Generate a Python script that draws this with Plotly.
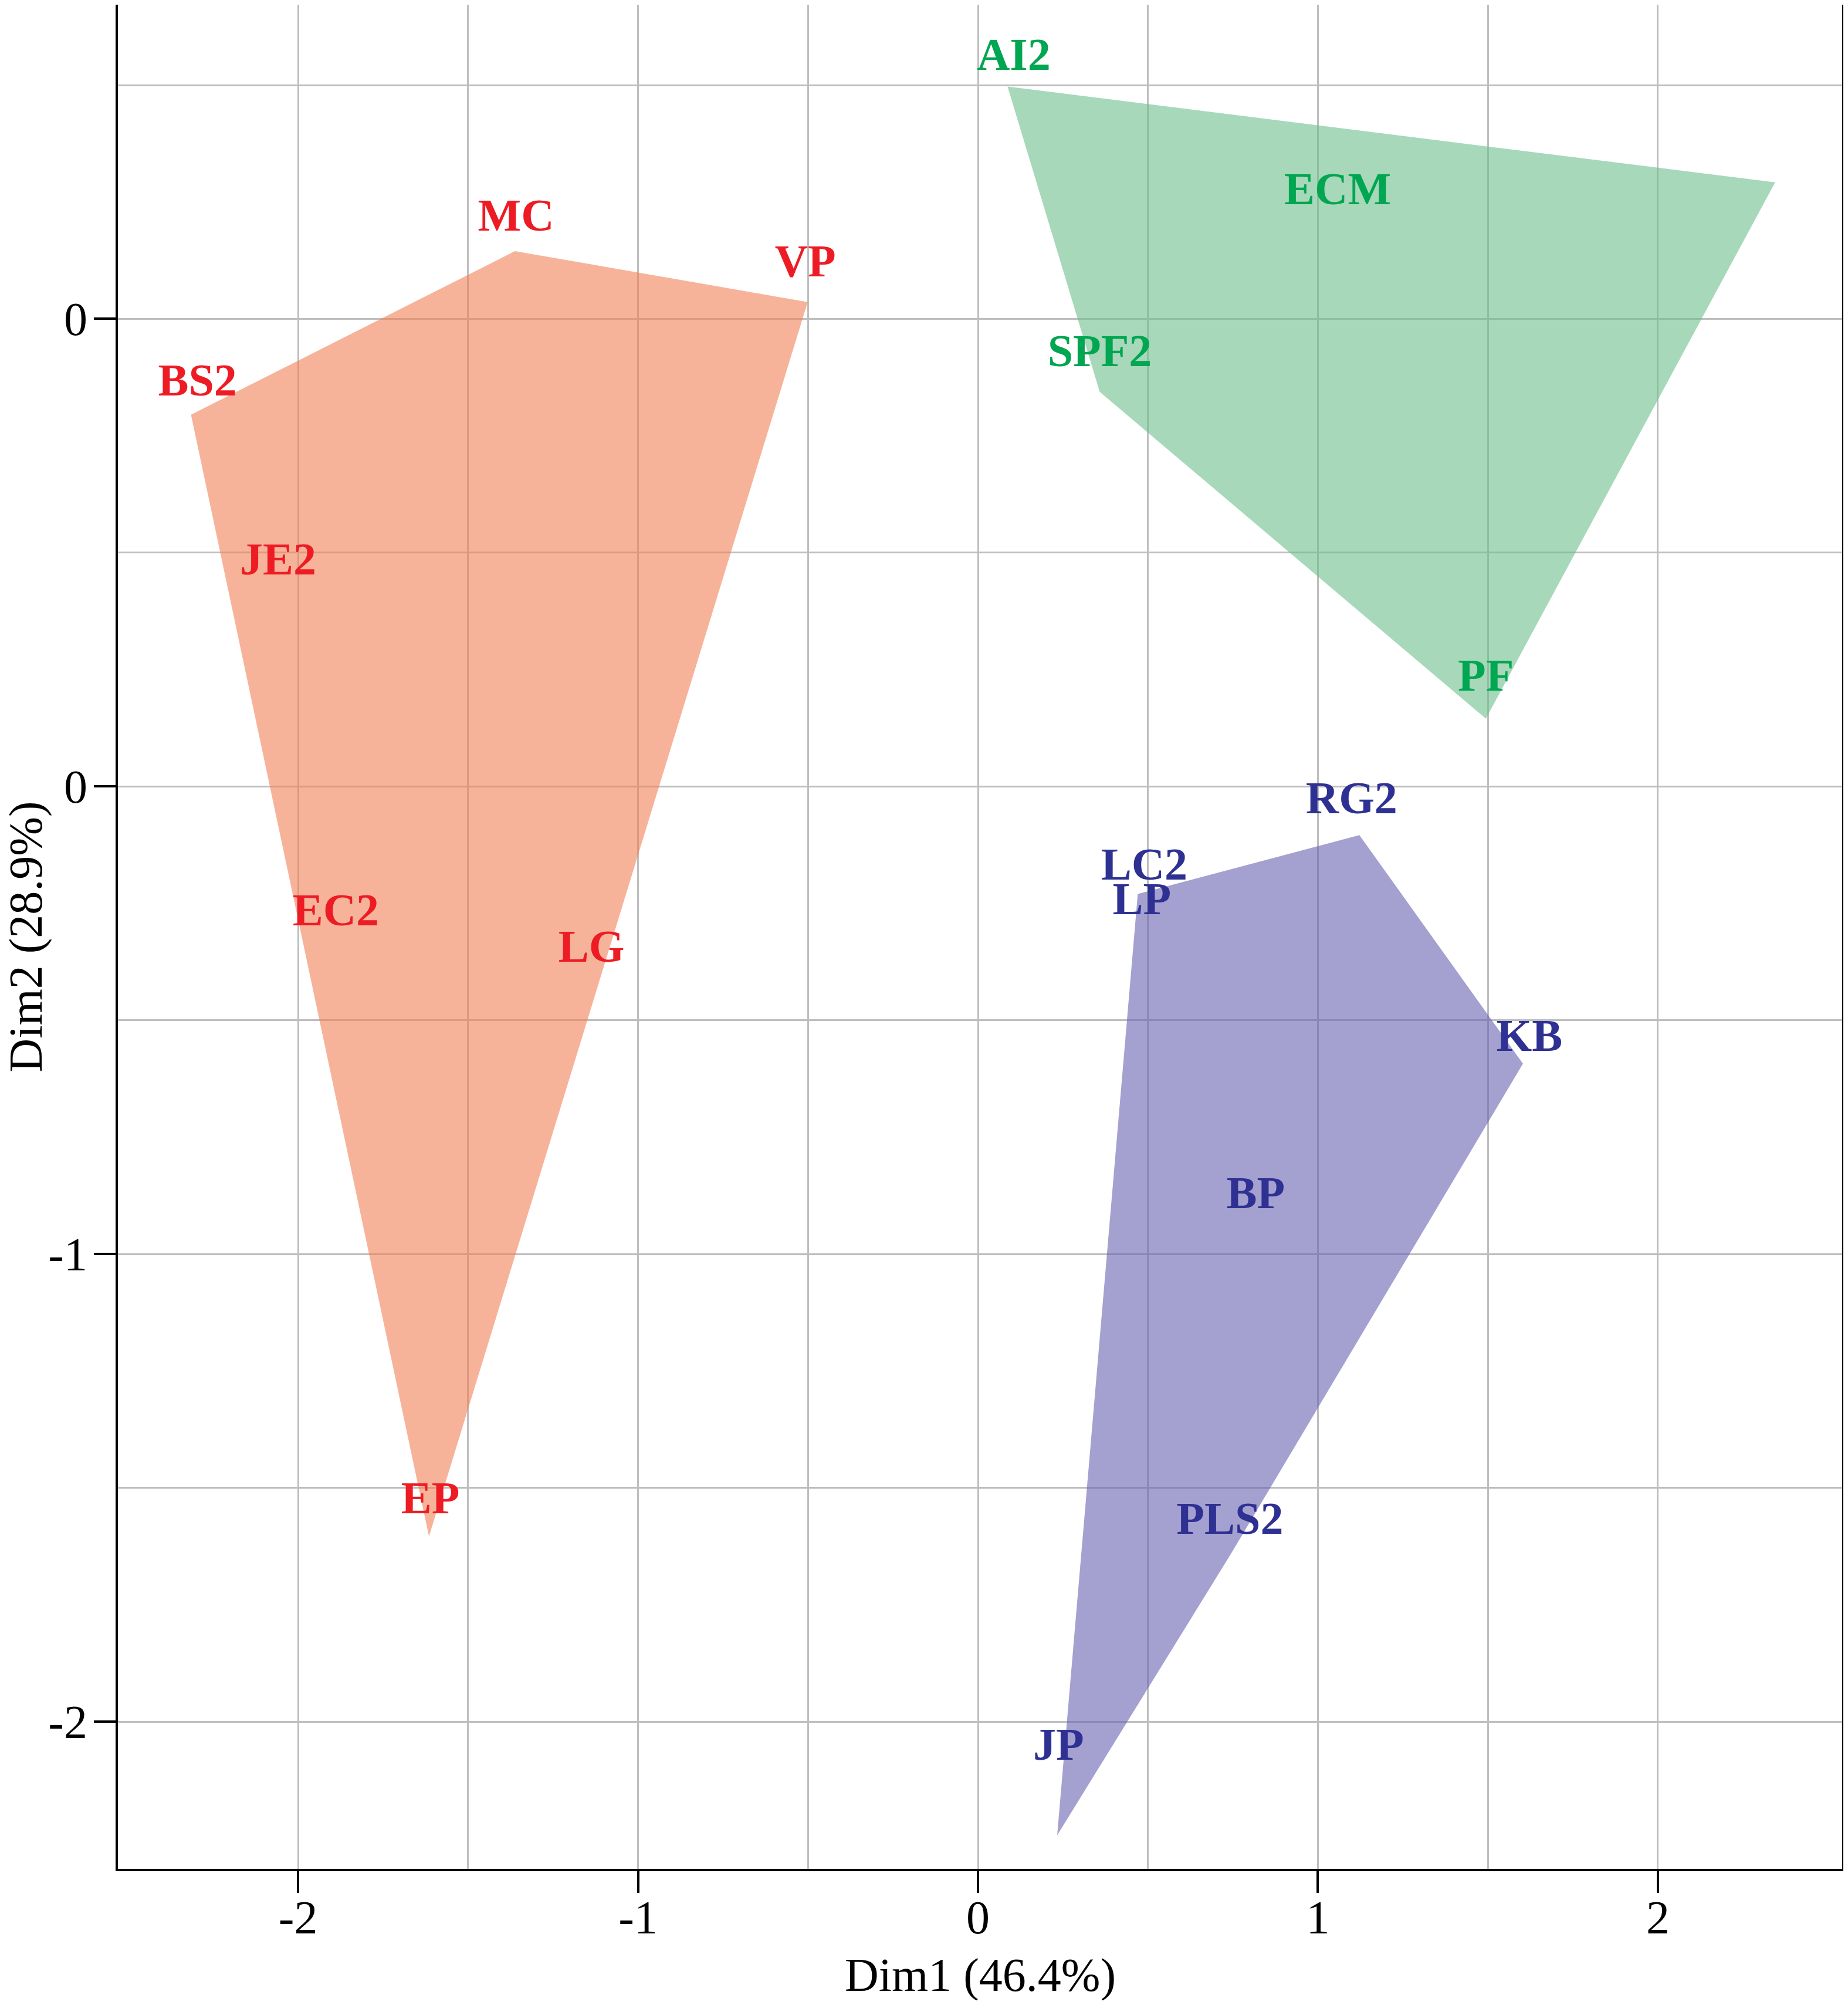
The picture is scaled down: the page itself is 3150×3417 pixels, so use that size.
import plotly.graph_objects as go

# ---- data (Dim1, Dim2 coordinates) ----
red_names = ["BS2", "MC", "VP", "JE2", "EC2", "LG", "EP"]
red_x = [-2.315, -1.362, -0.501, -2.059, -1.889, -1.137, -1.615]
red_y = [0.795, 1.145, 1.036, 0.407, -0.344, -0.421, -1.604]
red_lx = [-2.296, -1.359, -0.508, -2.059, -1.889, -1.137, -1.611]
red_ly = [0.861, 1.213, 1.115, 0.478, -0.273, -0.350, -1.530]

green_names = ["AI2", "ECM", "SPF2", "PF", ""]
green_x = [0.087, 1.058, 0.358, 1.494, 2.345]
green_y = [1.497, 1.199, 0.844, 0.145, 1.292]
green_lx = [0.105, 1.058, 0.358, 1.494, 2.345]
green_ly = [1.557, 1.270, 0.923, 0.229, 1.292]

blue_names = ["RG2", "LC2", "LP", "KB", "BP", "PLS2", "JP"]
blue_x = [1.122, 0.470, 0.482, 1.603, 0.817, 0.741, 0.233]
blue_y = [-0.104, -0.230, -0.317, -0.593, -0.948, -1.645, -2.243]
blue_lx = [1.099, 0.489, 0.482, 1.622, 0.817, 0.741, 0.237]
blue_ly = [-0.033, -0.175, -0.249, -0.541, -0.877, -1.574, -2.057]

x_tickvals = [-2, -1, 0, 1, 2]
x_ticktext = ["-2", "-1", "0", "1", "2"]
x_gridvals = [-1.5, -0.5, 0.5, 1.5]
y_tickvals = [1, 0, -1, -2]
y_ticktext = ["0", "0", "-1", "-2"]
y_gridvals = [1.5, 0.5, -0.5, -1.5]
x_title = "Dim1 (46.4%)"
y_title = "Dim2 (28.9%)"


def hull(xs, ys):
    pts = sorted(set(zip(xs, ys)))

    def cross(o, a, b):
        return (a[0] - o[0]) * (b[1] - o[1]) - (a[1] - o[1]) * (b[0] - o[0])

    lower, upper = [], []
    for p in pts:
        while len(lower) >= 2 and cross(lower[-2], lower[-1], p) <= 0:
            lower.pop()
        lower.append(p)
    for p in reversed(pts):
        while len(upper) >= 2 and cross(upper[-2], upper[-1], p) <= 0:
            upper.pop()
        upper.append(p)
    h = lower[:-1] + upper[:-1]
    h.append(h[0])
    return [p[0] for p in h], [p[1] for p in h]


groups = [
    (red_names, red_x, red_y, red_lx, red_ly, "rgba(242,128,86,0.6)", "#ED1C24"),
    (green_names, green_x, green_y, green_lx, green_ly, "rgba(108,190,138,0.6)", "#00A651"),
    (blue_names, blue_x, blue_y, blue_lx, blue_ly, "rgba(104,96,176,0.6)", "#2E3192"),
]

fig = go.Figure()
for names, xs, ys, lx, ly, fillc, textc in groups:
    hx, hy = hull(xs, ys)
    fig.add_trace(go.Scatter(x=hx, y=hy, mode="lines", fill="toself",
                             fillcolor=fillc, line=dict(width=0),
                             hoverinfo="skip", showlegend=False))
for names, xs, ys, lx, ly, fillc, textc in groups:
    fig.add_trace(go.Scatter(x=lx, y=ly, mode="text", text=names,
                             textposition="middle center",
                             textfont=dict(family="Liberation Serif", size=78,
                                           color=textc, weight="bold"),
                             hoverinfo="skip", showlegend=False))

axis_common = dict(
    showline=True, linecolor="black", linewidth=4, mirror=True,
    ticks="outside", ticklen=37, tickwidth=4, tickcolor="black",
    showgrid=True, gridcolor="#BEBEBE", gridwidth=3,
    zeroline=False, automargin=False,
    tickfont=dict(family="Liberation Serif", size=80, color="black"),
)

title_font = dict(family="Liberation Serif", size=80, color="black")

# page body has an 8px default margin, so the figure is sized to fit inside it
fig.update_layout(
    width=3134, height=3401,
    margin=dict(l=193, r=2, t=0, b=224),
    paper_bgcolor="white", plot_bgcolor="white",
    xaxis=dict(range=[-2.530, 2.542], tickvals=x_tickvals, ticktext=x_ticktext,
               ticklabelstandoff=-27,
               minor=dict(tickvals=x_gridvals, showgrid=True, gridcolor="#BEBEBE",
                          gridwidth=3, ticks=""),
               **axis_common),
    yaxis=dict(range=[-2.315, 1.672], tickvals=y_tickvals, ticktext=y_ticktext,
               ticklabelstandoff=-5,
               minor=dict(tickvals=y_gridvals, showgrid=True, gridcolor="#BEBEBE",
                          gridwidth=3, ticks=""),
               **axis_common),
    annotations=[
        dict(text=x_title, xref="paper", yref="paper", x=0.5, y=0,
             xanchor="center", yanchor="middle", yshift=-181,
             showarrow=False, font=title_font),
        dict(text=y_title, xref="paper", yref="paper", x=0, y=0.5,
             xanchor="center", yanchor="middle", xshift=-157, textangle=-90,
             showarrow=False, font=title_font),
    ],
)

fig.write_html("out.html")
